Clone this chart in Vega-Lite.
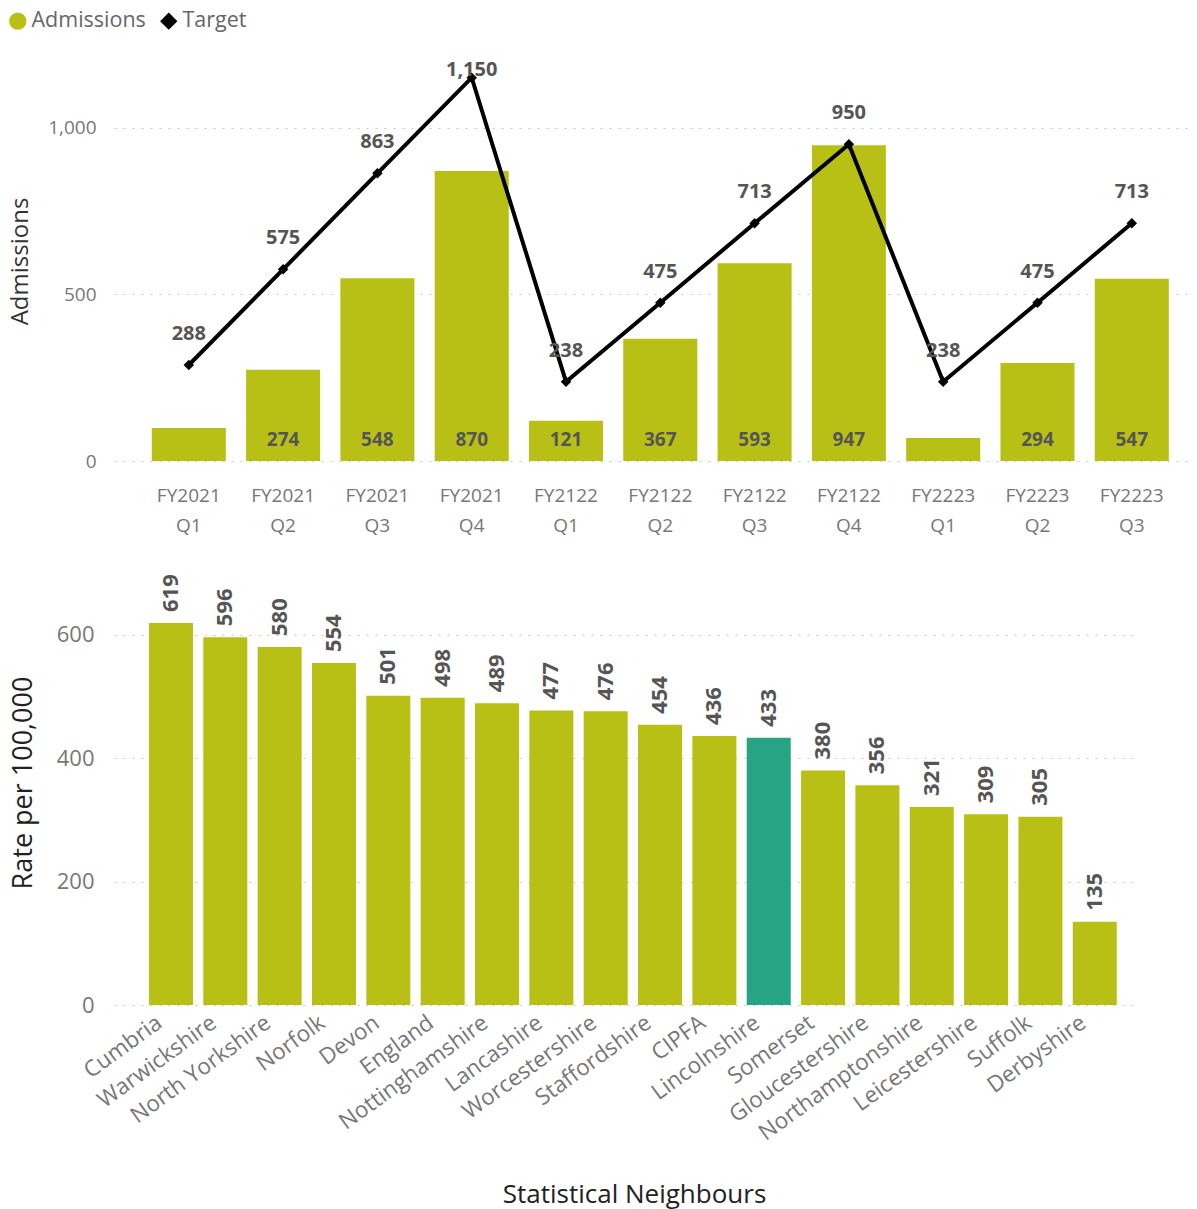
{
  "$schema": "https://vega.github.io/schema/vega-lite/v6.json",
  "background": "white",
  "padding": {"left": 7, "top": 10, "right": 2, "bottom": 2},
  "bounds": "flush",
  "spacing": 99,
  "config": {
    "font": "Open Sans",
    "view": {"stroke": null},
    "axis": {
      "domain": false,
      "ticks": false,
      "labelColor": "#777777",
      "titleColor": "#333333",
      "titleFontWeight": "normal",
      "gridColor": "#c8c8c8",
      "gridDash": [2, 7],
      "gridWidth": 1.2
    }
  },
  "vconcat": [
    {
      "width": 1080,
      "height": 400,
      "data": {
        "values": [
          {"period": "FY2021 Q1", "admissions": 99, "target": 288},
          {"period": "FY2021 Q2", "admissions": 274, "target": 575},
          {"period": "FY2021 Q3", "admissions": 548, "target": 863},
          {"period": "FY2021 Q4", "admissions": 870, "target": 1150},
          {"period": "FY2122 Q1", "admissions": 121, "target": 238},
          {"period": "FY2122 Q2", "admissions": 367, "target": 475},
          {"period": "FY2122 Q3", "admissions": 593, "target": 713},
          {"period": "FY2122 Q4", "admissions": 947, "target": 950},
          {"period": "FY2223 Q1", "admissions": 69, "target": 238},
          {"period": "FY2223 Q2", "admissions": 294, "target": 475},
          {"period": "FY2223 Q3", "admissions": 547, "target": 713}
        ]
      },
      "encoding": {
        "x": {
          "field": "period",
          "type": "nominal",
          "sort": null,
          "scale": {"paddingInner": 0.215, "paddingOuter": 0.334, "align": 0.6},
          "axis": {
            "title": null,
            "labelAngle": 0,
            "labelExpr": "split(datum.label, ' ')",
            "labelFontSize": 19,
            "labelLineHeight": 30,
            "labelPadding": 25
          }
        }
      },
      "layer": [
        {
          "mark": {"type": "bar"},
          "encoding": {
            "y": {
              "field": "admissions",
              "type": "quantitative",
              "scale": {"domain": [0, 1200], "nice": false},
              "axis": {
                "title": "Admissions",
                "values": [0, 500, 1000],
                "format": ",.0f",
                "labelFontSize": 19,
                "labelPadding": 18,
                "titleFontSize": 24,
                "titlePadding": 15
              }
            },
            "color": {
              "datum": "Admissions",
              "scale": {"domain": ["Admissions", "Target"], "range": ["#b8c016", "#000000"]},
              "legend": {
                "title": null,
                "orient": "none",
                "direction": "horizontal",
                "legendX": -107,
                "legendY": -51,
                "symbolType": "circle",
                "symbolSize": 300,
                "labelFontSize": 21.5,
                "labelColor": "#666666",
                "labelOffset": 3,
                "columnPadding": 12,
                "encode": {
                  "symbols": {
                    "update": {
                      "shape": {"signal": "datum.value === 'Target' ? 'diamond' : 'circle'"},
                      "fill": {"signal": "datum.value === 'Target' ? '#000000' : '#b8c016'"},
                      "fillOpacity": {"value": 1},
                      "strokeWidth": {"value": 0}
                    }
                  }
                }
              }
            }
          }
        },
        {
          "transform": [{"filter": "datum.admissions > 110"}],
          "mark": {"type": "text", "fontWeight": "bold", "fontSize": 19, "color": "#555555", "baseline": "middle", "dy": -21},
          "encoding": {
            "y": {"datum": 0, "type": "quantitative"},
            "text": {"field": "admissions", "type": "quantitative", "format": ","}
          }
        },
        {
          "mark": {"type": "line", "strokeWidth": 4},
          "encoding": {
            "y": {"field": "target", "type": "quantitative"},
            "color": {"datum": "Target"}
          }
        },
        {
          "mark": {"type": "point", "shape": "diamond", "filled": true, "size": 110, "color": "#000000", "opacity": 1},
          "encoding": {
            "y": {"field": "target", "type": "quantitative"}
          }
        },
        {
          "transform": [{"filter": "datum.target <= 1100"}],
          "mark": {"type": "text", "fontWeight": "bold", "fontSize": 20, "color": "#555555", "baseline": "middle", "dy": -31},
          "encoding": {
            "y": {"field": "target", "type": "quantitative"},
            "text": {"field": "target", "type": "quantitative", "format": ","}
          }
        },
        {
          "transform": [{"filter": "datum.target > 1100"}],
          "mark": {"type": "text", "fontWeight": "bold", "fontSize": 20, "color": "#555555", "baseline": "middle", "dy": -8},
          "encoding": {
            "y": {"field": "target", "type": "quantitative"},
            "text": {"field": "target", "type": "quantitative", "format": ","}
          }
        }
      ]
    },
    {
      "width": 1020,
      "height": 445,
      "data": {
        "values": [
          {"area": "Cumbria", "rate": 619},
          {"area": "Warwickshire", "rate": 596},
          {"area": "North Yorkshire", "rate": 580},
          {"area": "Norfolk", "rate": 554},
          {"area": "Devon", "rate": 501},
          {"area": "England", "rate": 498},
          {"area": "Nottinghamshire", "rate": 489},
          {"area": "Lancashire", "rate": 477},
          {"area": "Worcestershire", "rate": 476},
          {"area": "Staffordshire", "rate": 454},
          {"area": "CIPFA", "rate": 436},
          {"area": "Lincolnshire", "rate": 433},
          {"area": "Somerset", "rate": 380},
          {"area": "Gloucestershire", "rate": 356},
          {"area": "Northamptonshire", "rate": 321},
          {"area": "Leicestershire", "rate": 309},
          {"area": "Suffolk", "rate": 305},
          {"area": "Derbyshire", "rate": 135}
        ]
      },
      "encoding": {
        "x": {
          "field": "area",
          "type": "nominal",
          "sort": null,
          "scale": {"paddingInner": 0.19, "paddingOuter": 0.48, "align": 0.67},
          "axis": {
            "title": "Statistical Neighbours",
            "titleFontSize": 26,
            "titleColor": "#222222",
            "titleX": 520,
            "titleY": 176,
            "titleBaseline": "top",
            "labelAngle": -36,
            "labelFontSize": 22.5,
            "labelPadding": 6,
            "labelOffset": -18,
            "labelLimit": 0
          }
        },
        "y": {
          "field": "rate",
          "type": "quantitative",
          "scale": {"domain": [0, 721], "nice": false},
          "axis": {
            "title": "Rate per 100,000",
            "values": [0, 200, 400, 600],
            "labelFontSize": 22,
            "labelPadding": 20,
            "titleFontSize": 27,
            "titleColor": "#222222",
            "titlePadding": 19
          }
        }
      },
      "layer": [
        {
          "mark": {"type": "bar"},
          "encoding": {
            "color": {
              "condition": {"test": "datum.area === 'Lincolnshire'", "value": "#26a484"},
              "value": "#b8c016"
            }
          }
        },
        {
          "mark": {"type": "text", "angle": 270, "align": "left", "baseline": "middle", "fontWeight": "bold", "fontSize": 22, "color": "#555555", "yOffset": -11},
          "encoding": {
            "text": {"field": "rate", "type": "quantitative"}
          }
        }
      ]
    }
  ]
}
